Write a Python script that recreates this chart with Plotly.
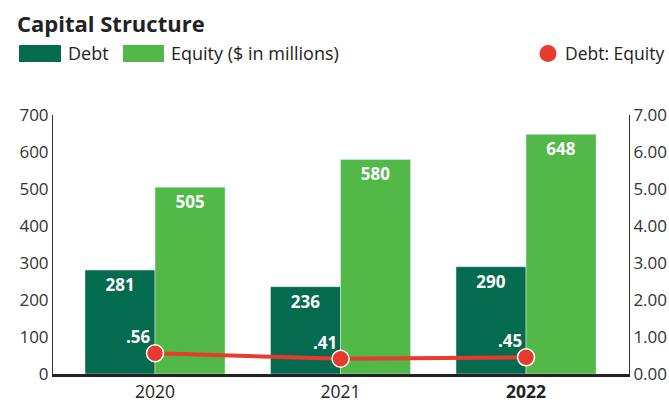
import plotly.graph_objects as go

years = ["2020", "2021", "2022"]
year_labels = ["2020", "2021", "<b>2022</b>"]
debt = [281, 236, 290]
equity = [505, 580, 648]
ratio = [0.56, 0.41, 0.45]
ratio_labels = [".56", ".41", ".45"]

DEBT_C = "#046B4F"
EQ_C = "#52B848"
RED_C = "#E63B2E"
FONT = "Open Sans"

W, H = 669, 402
L, R, T, B = 53, 40, 115, 28
PW, PH = W - L - R, H - T - B


def px(x):
    return (x - L) / PW


def py(y):
    return (H - B - y) / PH


fig = go.Figure()
fig.add_trace(go.Bar(
    x=years, y=debt, name="Debt", marker_color=DEBT_C,
    text=["<b>%d</b>" % v for v in debt], textposition="inside", insidetextanchor="end",
    textfont=dict(color="white", size=17, family=FONT), textangle=0,
    cliponaxis=False, showlegend=False,
))
fig.add_trace(go.Bar(
    x=years, y=equity, name="Equity ($ in millions)", marker_color=EQ_C,
    text=["<b>%d</b>" % v for v in equity], textposition="inside", insidetextanchor="end",
    textfont=dict(color="white", size=17, family=FONT), textangle=0,
    cliponaxis=False, showlegend=False,
))
fig.add_trace(go.Scatter(
    x=years, y=ratio, yaxis="y2", mode="lines+markers", name="Debt: Equity",
    line=dict(color=RED_C, width=4),
    marker=dict(color=RED_C, size=17, line=dict(color="white", width=1.5)),
    cliponaxis=False, showlegend=False,
))

shapes = [
    dict(type="rect", xref="paper", yref="paper", x0=px(19), x1=px(61), y0=py(62), y1=py(45),
         fillcolor=DEBT_C, line=dict(width=0)),
    dict(type="rect", xref="paper", yref="paper", x0=px(123), x1=px(164), y0=py(62), y1=py(45),
         fillcolor=EQ_C, line=dict(width=0)),
    dict(type="circle", xref="paper", yref="paper", x0=px(539.5), x1=px(556.5), y0=py(62), y1=py(45),
         fillcolor=RED_C, line=dict(width=0)),
]
annotations = [
    dict(text="<b>Capital Structure</b>", xref="paper", yref="paper", x=px(15), y=py(23),
         xanchor="left", yanchor="middle", showarrow=False,
         font=dict(size=22, color="#222", family=FONT)),
    dict(text="Debt", xref="paper", yref="paper", x=px(66), y=py(53),
         xanchor="left", yanchor="middle", showarrow=False,
         font=dict(size=18, color="#222", family=FONT)),
    dict(text="Equity ($ in millions)", xref="paper", yref="paper", x=px(169), y=py(53),
         xanchor="left", yanchor="middle", showarrow=False,
         font=dict(size=18, color="#222", family=FONT)),
    dict(text="Debt: Equity", xref="paper", yref="paper", x=px(563), y=py(53),
         xanchor="left", yanchor="middle", showarrow=False,
         font=dict(size=17.5, color="#222", family=FONT)),
]
for i, (r, lab) in enumerate(zip(ratio, ratio_labels)):
    annotations.append(dict(
        text="<b>%s</b>" % lab, xref="x", yref="y2", x=i, y=r,
        xanchor="right", yanchor="bottom", xshift=-2, yshift=3, showarrow=False,
        font=dict(size=17, color="white", family=FONT),
    ))

fig.update_layout(
    width=W, height=H,
    margin=dict(l=L, r=R, t=T, b=B, autoexpand=False),
    plot_bgcolor="white", paper_bgcolor="white",
    barmode="group", bargap=0.245, bargroupgap=0,
    font=dict(family=FONT, size=17, color="#333"),
    shapes=shapes, annotations=annotations,
    uniformtext=dict(mode="show", minsize=10),
    xaxis=dict(
        type="category", range=[-0.55, 2.555], tickmode="array",
        tickvals=years, ticktext=year_labels, automargin=False,
        showline=True, linecolor="#222", linewidth=2.5, showgrid=False,
        ticks="", tickfont=dict(size=17.5, color="#222"), zeroline=False,
    ),
    yaxis=dict(
        range=[0, 700], dtick=100, showgrid=False, zeroline=False, automargin=False,
        showline=True, linecolor="#333", linewidth=1, ticks="",
        tickfont=dict(size=17, color="#333"),
    ),
    yaxis2=dict(
        range=[0, 7], dtick=1, tickformat=".2f", overlaying="y", side="right",
        showgrid=False, zeroline=False, showline=True, linecolor="#333", linewidth=1,
        ticks="", tickfont=dict(size=17, color="#333"), automargin=False,
    ),
)

fig.write_html("out.html")
